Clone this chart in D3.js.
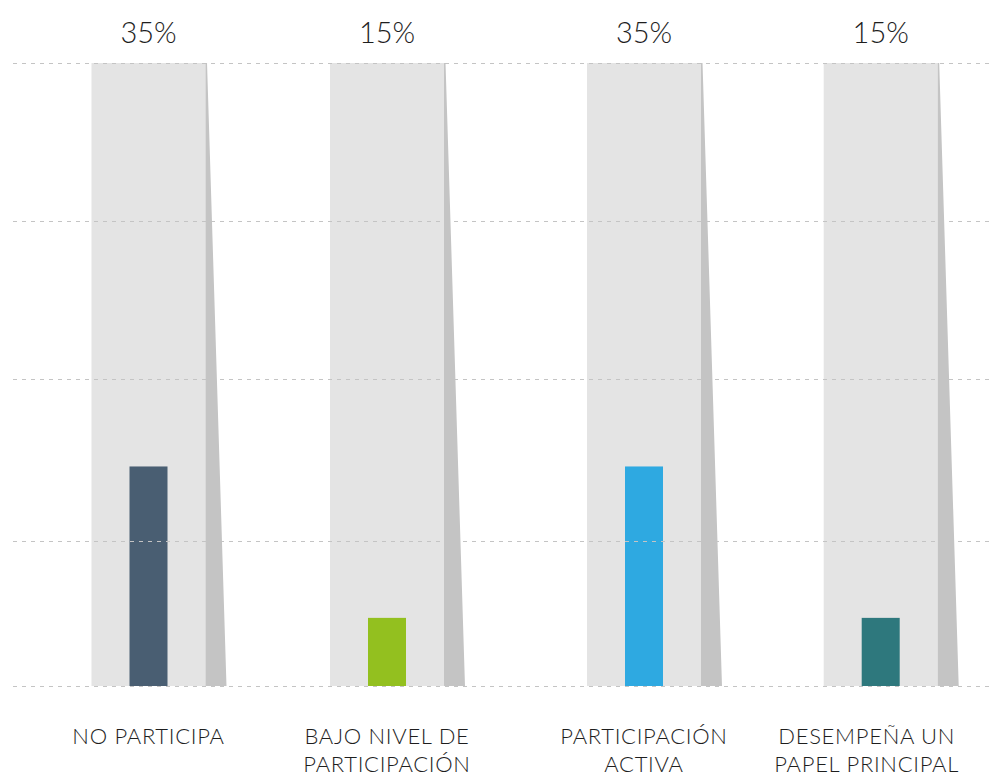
<!DOCTYPE html>
<html>
<head>
<meta charset="utf-8">
<script src="https://cdn.jsdelivr.net/npm/d3@7"></script>
<style>
  html, body { margin: 0; padding: 0; background: #ffffff; }
  svg { display: block; }
  text { font-family: Lato, "Open Sans", sans-serif; font-weight: 300; fill: #1e1e1e; }
</style>
</head>
<body>
<svg id="chart" width="992" height="776"></svg>
<script>
// Participation levels and their shares (%)
const categories = ["NO PARTICIPA", "BAJO NIVEL DE PARTICIPACIÓN", "PARTICIPACIÓN ACTIVA", "DESEMPEÑA UN PAPEL PRINCIPAL"];
const labelLines = [["NO PARTICIPA"], ["BAJO NIVEL DE", "PARTICIPACIÓN"], ["PARTICIPACIÓN", "ACTIVA"], ["DESEMPEÑA UN", "PAPEL PRINCIPAL"]];
const values = [35, 15, 35, 15];
const valueLabels = ["35%", "15%", "35%", "15%"];
const barColors = ["#495e72", "#93c01f", "#2ea9e1", "#2e787d"];
// Guide-line levels on the value axis
const gridLevels = [6, 25.2, 46.6, 67.4, 88.3];

(function () {
  const svg = d3.select("#chart");
  const W = 992;
  const plotTop = 63, plotBase = 686;
  const vMin = 6, vMax = 88.3;

  const x = d3.scaleOrdinal().domain(categories).range([148.5, 387, 644, 880.7]);
  const y = d3.scaleLinear().domain([vMin, vMax]).range([plotBase, plotTop]);

  const colW = 114, shadeW = 21, barW = 38;

  // light backdrop columns
  svg.append("g").selectAll("rect").data(categories).join("rect")
    .attr("x", d => x(d) - colW / 2)
    .attr("y", y(vMax))
    .attr("width", colW)
    .attr("height", y(vMin) - y(vMax))
    .attr("fill", "#e4e4e4");

  // value bars
  svg.append("g").selectAll("rect").data(categories).join("rect")
    .attr("x", d => x(d) - barW / 2)
    .attr("y", (d, i) => y(values[i]))
    .attr("width", barW)
    .attr("height", (d, i) => y(vMin) - y(values[i]))
    .attr("fill", (d, i) => barColors[i]);

  // dashed guide lines
  svg.append("g").selectAll("line").data(gridLevels).join("line")
    .attr("x1", 13).attr("x2", W)
    .attr("y1", d => Math.round(y(d)) + 0.5)
    .attr("y2", d => Math.round(y(d)) + 0.5)
    .attr("stroke", "#c4c4c4")
    .attr("stroke-width", 1)
    .attr("stroke-dasharray", "4,5");

  // wedge-shaped shadow beside each column
  svg.append("g").selectAll("path").data(categories).join("path")
    .attr("d", d => {
      const x0 = x(d) + colW / 2;
      return `M${x0},${y(vMax)} L${x0 + 1.5},${y(vMax)} L${x0 + shadeW},${y(vMin)} L${x0},${y(vMin)} Z`;
    })
    .attr("fill", "#c4c4c4");

  // percentage labels above each column
  svg.append("g").selectAll("text").data(categories).join("text")
    .attr("x", d => x(d))
    .attr("y", 43)
    .attr("text-anchor", "middle")
    .attr("font-size", 29)
    .text((d, i) => valueLabels[i]);

  // category labels below the baseline
  const catG = svg.append("g").selectAll("text").data(categories).join("text")
    .attr("x", d => x(d))
    .attr("y", 744)
    .attr("text-anchor", "middle")
    .attr("font-size", 22)
    .attr("letter-spacing", 0.7);
  catG.each(function (d, i) {
    const t = d3.select(this);
    labelLines[i].forEach((line, k) => {
      t.append("tspan").attr("x", x(d)).attr("dy", k === 0 ? 0 : 27.5).text(line);
    });
    // keep the label inside the right margin
    const bb = this.getBBox();
    const overflow = bb.x + bb.width - (W - 33);
    if (overflow > 0) t.selectAll("tspan").attr("x", x(d) - overflow);
  });
})();
</script>
</body>
</html>
